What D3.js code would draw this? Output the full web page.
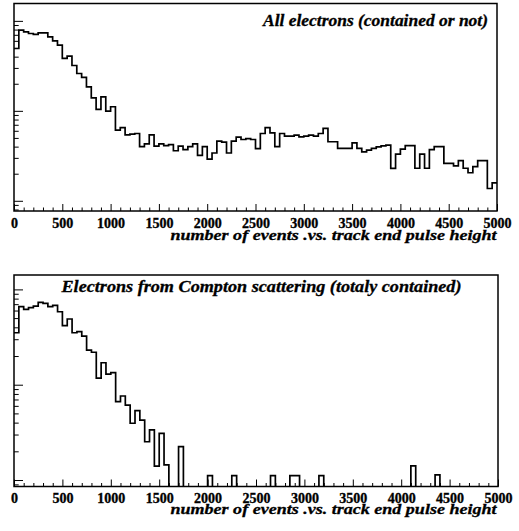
<!DOCTYPE html>
<html><head><meta charset="utf-8">
<script src="https://cdn.jsdelivr.net/npm/d3@7"></script>
<style>body{margin:0;background:#fff}svg{display:block}</style>
</head><body>
<svg id="chart" width="519" height="531"></svg>
<script>
// ---------------- data ----------------
const binWidth = 50;
const xMin = 0, xMax = 5000;
const xMajorTicks = [0,500,1000,1500,2000,2500,3000,3500,4000,4500,5000];
const xTickLabels = ["0","500","1000","1500","2000","2500","3000","3500","4000","4500","5000"];
const panelTitles = ["All electrons (contained or not)", "Electrons from Compton scattering (totaly contained)"];
const axisTitle = "number of events .vs. track end pulse height";

const allElectrons = [
 493,788,755,724,706,736,736,664,600,537,
 382,405,319,260,235,185,139,104,143,99,
 111,61,65,54,55,56,40,43,54,40.5,
 43,41,42,36,40.5,37,40,43,32,40,
 29,34,46,45,34,46,51,48,49,48,
 38,56,65,57,40,56,52.4,52.4,53.7,51.3,
 52.4,53.7,52.4,56,63.7,45.3,45.3,38.2,38.2,38.2,
 44.1,38.2,35,36.6,38.2,39.8,40.8,41.6,22.9,33,
 37.5,41,41,23,33,23,37,40,40,26,
 26,24.5,28,23,20.5,24,28,28,13.7,15.8
];
const comptonElectrons = [
 35.1,65.8,61.8,64.3,66.9,73.2,71.5,65.8,68.1,58.3,
 41.6,48.9,35.1,36,32.4,23.1,21.9,11.7,17,12.9,
 13.4,6.63,7.61,6.12,3.94,5.34,4.26,2.52,3.35,1.40,
 3.09,1.44,0,0,2.24,0,0,0,0,0,
 1.11,0,0,0,0,1.11,0,0,0,0,
 0,0,0,1.11,0,0,0,1.11,1.11,0,
 0,0,0,1.11,0,0,0,0,0,0,
 0,0,0,0,0,0,0,0,0,0,
 0,0,1.41,0,0,0,0,1.13,0,0,
 0,0,0,0,0,0,0,0,0,0
];

// ---------------- layout ----------------
const FONT = "'Liberation Serif','Times New Roman',Times,serif";
const panels = [
  {values: allElectrons, title: panelTitles[0], left:14, right:497, top:3.5, bottom:211,
   yDomain:[7.7,1560], titleX:488, titleY:25.5, titleLen:225, labelY:228, axisTitleY:240},
  {values: comptonElectrons, title: panelTitles[1], left:14, right:498, top:275, bottom:486.5,
   yDomain:[0.855,141.6], titleX:461.5, titleY:292, titleLen:400, labelY:503, axisTitleY:514}
];

const svg = d3.select("#chart");

panels.forEach((p, pi) => {
  const x = d3.scaleLinear().domain([xMin, xMax]).range([p.left, p.right]);
  const y = d3.scaleLog().domain(p.yDomain).range([p.bottom, p.top]);
  const g = svg.append("g");

  const clipId = "clip" + pi;
  svg.append("clipPath").attr("id", clipId).append("rect")
    .attr("x", p.left).attr("y", p.top).attr("width", p.right - p.left).attr("height", p.bottom - p.top);

  // histogram
  const pts = p.values.map((v, i) => [i * binWidth, v]);
  pts.push([xMax, p.values[p.values.length - 1]]);
  const yv = v => v > p.yDomain[0] ? y(v) : p.bottom + 2;
  const line = d3.line().x(d => x(d[0])).y(d => yv(d[1])).curve(d3.curveStepAfter);
  g.append("path").attr("d", line(pts)).attr("clip-path", `url(#${clipId})`)
    .attr("fill", "none").attr("stroke", "#000").attr("stroke-width", 1.7);

  // y ticks (log)
  const allY = y.ticks();
  const majorY = allY.filter(v => Math.abs(Math.log10(v) - Math.round(Math.log10(v))) < 1e-9);
  const minorY = allY.filter(v => !majorY.includes(v));
  const yMinorAxis = d3.axisLeft(y).tickValues(minorY).tickSize(-4.7).tickFormat("");
  const yMajorAxis = d3.axisLeft(y).tickValues(majorY).tickSize(-9).tickFormat("");
  [yMinorAxis, yMajorAxis].forEach(ax => {
    const a = g.append("g").attr("transform", `translate(${p.left},0)`).call(ax);
    a.select(".domain").remove();
    a.selectAll("line").attr("stroke", "#000").attr("stroke-width", 1);
  });

  // x ticks
  const minorX = d3.range(xMin, xMax + 1, 100).filter(v => v % 500 !== 0);
  const xMinorAxis = d3.axisBottom(x).tickValues(minorX).tickSize(-3.5).tickFormat("");
  const xMajorAxis = d3.axisBottom(x).tickValues(xMajorTicks).tickSize(-7)
      .tickFormat((d, i) => xTickLabels[i]);
  [xMinorAxis, xMajorAxis].forEach(ax => {
    const a = g.append("g").attr("transform", `translate(0,${p.bottom})`).call(ax)
      .attr("font-family", FONT).attr("font-size", 14);
    a.select(".domain").remove();
    a.selectAll("line").attr("stroke", "#000").attr("stroke-width", 1);
    a.selectAll("text").attr("y", p.labelY - p.bottom).attr("dy", null)
      .style("font-family", FONT).style("font-weight", "bold").style("font-size", "14px")
      .attr("fill", "#000").attr("stroke", "#000").attr("stroke-width", 0.35);
  });

  // frame
  g.append("rect").attr("x", p.left).attr("y", p.top)
    .attr("width", p.right - p.left).attr("height", p.bottom - p.top)
    .attr("fill", "none").attr("stroke", "#000").attr("stroke-width", 1.5);

  // panel title
  g.append("text").attr("x", p.titleX).attr("y", p.titleY).attr("text-anchor", "end")
    .style("font-family", FONT).style("font-weight", "bold").style("font-style", "italic")
    .style("font-size", "16px").attr("textLength", p.titleLen).attr("lengthAdjust", "spacingAndGlyphs")
    .attr("stroke", "#000").attr("stroke-width", 0.3)
    .text(p.title);

  // axis title
  g.append("text").attr("x", 496.5).attr("y", p.axisTitleY).attr("text-anchor", "end")
    .style("font-family", FONT).style("font-weight", "bold").style("font-style", "italic")
    .style("font-size", "15.5px").attr("textLength", 326).attr("lengthAdjust", "spacingAndGlyphs")
    .attr("stroke", "#000").attr("stroke-width", 0.3)
    .text(axisTitle);
});
</script>
</body></html>
